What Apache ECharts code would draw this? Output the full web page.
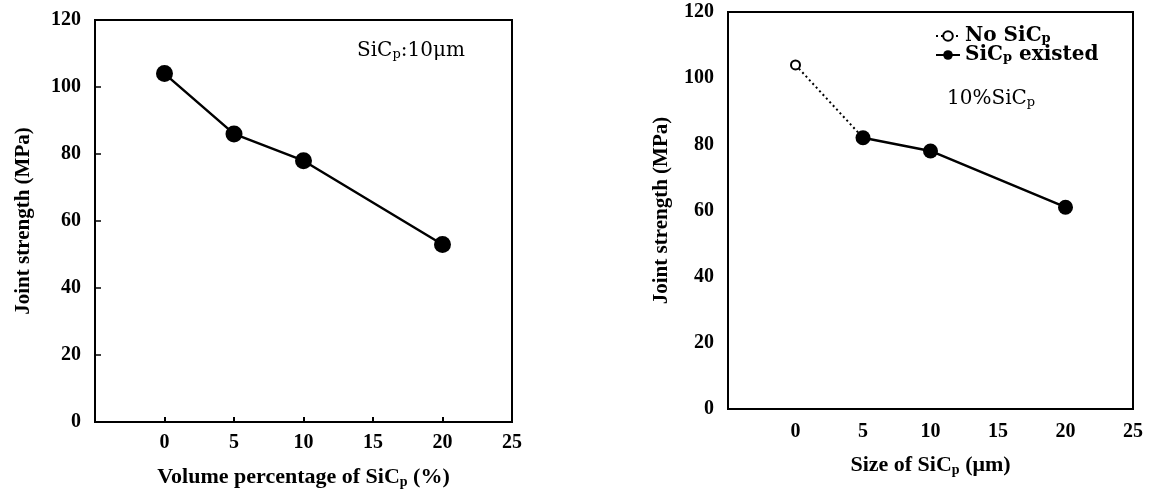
<!DOCTYPE html>
<html>
<head>
<meta charset="utf-8">
<script src="https://cdn.jsdelivr.net/npm/echarts@6/dist/echarts.min.js"></script>
<style>
  html, body { margin: 0; padding: 0; background: #fff; }
  #chart { width: 1151px; height: 490px; }
</style>
</head>
<body>
<div id="chart"></div>
<script>
// left panel: SiCp 10um, varying volume percentage
const volumePct = [0, 5, 10, 20];
const strengthByVolume = [104, 86, 78, 53];

// right panel: 10% SiCp, varying particle size
const sizeNoSic = [0];
const strengthNoSic = [104];
const sizeSic = [5, 10, 20];
const strengthSic = [82, 78, 61];

const xTicks = [0, 5, 10, 15, 20, 25];
const yTicks = [0, 20, 40, 60, 80, 100, 120];

const axisFont = "Liberation Serif";
const noteFont = "DejaVu Serif";

function richText(family, size, weight, subPad) {
  return {
    a: { fontFamily: family, fontSize: size, fontWeight: weight, color: "#000" },
    s: {
      fontFamily: family,
      fontSize: Math.round(size * 0.65),
      fontWeight: weight,
      color: "#000",
      padding: [subPad, 0, 0, 0]
    }
  };
}

function xAxisFor(gridIndex, name, gap, margin) {
  return {
    gridIndex: gridIndex,
    type: "value",
    min: -5,
    max: 25,
    interval: 5,
    name: name,
    nameLocation: "middle",
    nameGap: gap,
    nameTextStyle: { rich: richText(axisFont, 22, "bold", 9) },
    axisLine: { onZero: false, lineStyle: { color: "#000", width: 2 } },
    axisTick: { show: gridIndex === 0, inside: true, length: 5, lineStyle: { color: "#000", width: 2 } },
    splitLine: { show: false },
    axisLabel: {
      margin: margin,
      color: "#000",
      fontFamily: axisFont,
      fontSize: 20,
      fontWeight: "bold",
      formatter: v => (xTicks.indexOf(v) >= 0 ? String(v) : "")
    }
  };
}

function yAxisFor(gridIndex, gap) {
  return {
    gridIndex: gridIndex,
    type: "value",
    min: 0,
    max: 120,
    interval: 20,
    name: "Joint strength (MPa)",
    nameLocation: "middle",
    nameGap: gap,
    nameTextStyle: { color: "#000", fontFamily: axisFont, fontSize: 21, fontWeight: "bold" },
    axisLine: { onZero: false, lineStyle: { color: "#000", width: 2 } },
    axisTick: { show: gridIndex === 0, inside: true, length: 6, lineStyle: { color: "#000", width: 1.5 } },
    splitLine: { show: false },
    axisLabel: {
      margin: 14,
      color: "#000",
      fontFamily: axisFont,
      fontSize: 20,
      fontWeight: "bold",
      formatter: v => (yTicks.indexOf(v) >= 0 ? String(v) : "")
    }
  };
}

const chart = echarts.init(document.getElementById("chart"));

// dotted link from the bare-joint point to the first SiCp point
const noSicData = sizeNoSic.map((x, i) => [x, strengthNoSic[i]]);
noSicData.push({ value: [sizeSic[0], strengthSic[0]], symbol: "none" });

const option = {
  animation: false,
  backgroundColor: "#fff",
  grid: [
    { left: 95, top: 20, width: 417, height: 402, outerBoundsMode: "none", show: true, borderColor: "#000", borderWidth: 2 },
    { left: 728, top: 12, width: 405, height: 397, outerBoundsMode: "none", show: true, borderColor: "#000", borderWidth: 2 }
  ],
  xAxis: [
    xAxisFor(0, "{a|Volume percentage of SiC}{s|p}{a| (%)}", 44, 11),
    xAxisFor(1, "{a|Size of SiC}{s|p}{a| (μm)}", 45, 13)
  ],
  yAxis: [yAxisFor(0, 61), yAxisFor(1, 56)],
  title: [
    {
      text: "{a|SiC}{s|p}{a|:10μm}",
      left: 357,
      top: 40,
      padding: 0,
      textStyle: { rich: richText(noteFont, 20, "normal", 8) }
    },
    {
      text: "{a|10%SiC}{s|p}",
      left: 947,
      top: 88,
      padding: 0,
      textStyle: { rich: richText(noteFont, 20, "normal", 8) }
    }
  ],
  legend: {
    orient: "vertical",
    left: 935,
    top: 26,
    padding: 0,
    itemGap: -1,
    itemWidth: 24,
    itemHeight: 12,
    data: ["No SiCp", "SiCp existed"],
    formatter: n => (n === "No SiCp" ? "{a|No SiC}{s|p}" : "{a|SiC}{s|p}{a| existed}"),
    textStyle: { rich: richText(noteFont, 20, "bold", 6) }
  },
  series: [
    {
      type: "line",
      xAxisIndex: 0,
      yAxisIndex: 0,
      data: volumePct.map((x, i) => [x, strengthByVolume[i]]),
      symbol: "circle",
      symbolSize: 17,
      itemStyle: { color: "#000" },
      lineStyle: { color: "#000", width: 2.5 }
    },
    {
      name: "No SiCp",
      type: "line",
      xAxisIndex: 1,
      yAxisIndex: 1,
      data: noSicData,
      symbol: "emptyCircle",
      symbolSize: 9,
      itemStyle: { color: "#000", borderWidth: 2.5 },
      lineStyle: { color: "#000", width: 2, type: [2, 3] }
    },
    {
      name: "SiCp existed",
      type: "line",
      xAxisIndex: 1,
      yAxisIndex: 1,
      data: sizeSic.map((x, i) => [x, strengthSic[i]]),
      symbol: "circle",
      symbolSize: 15,
      itemStyle: { color: "#000" },
      lineStyle: { color: "#000", width: 2.5 }
    }
  ]
};

chart.setOption(option);
</script>
</body>
</html>
